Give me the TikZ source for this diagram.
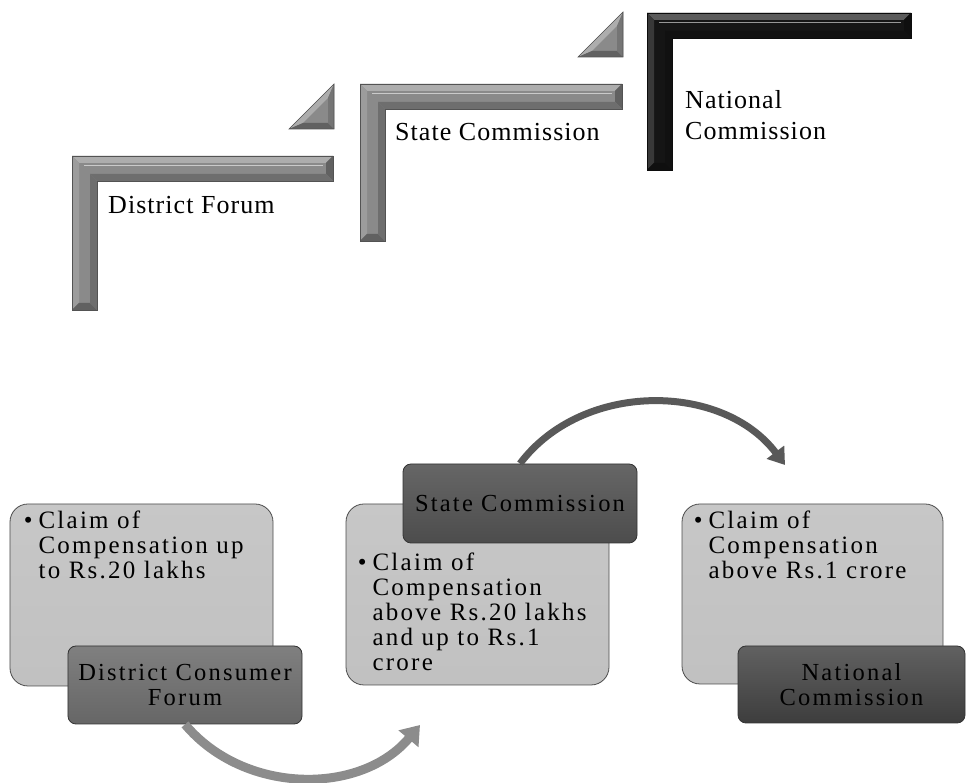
\documentclass[tikz,border=0pt]{standalone}
\usepackage{fontspec}
\setmainfont{Liberation Serif}
\newfontfamily\spacedfont[LetterSpace=9]{Liberation Serif}
\newfontfamily\widefont[LetterSpace=4]{Liberation Serif}
\usetikzlibrary{calc, arrows.meta}
\definecolor{framegray}{HTML}{8A8A8A}
\definecolor{frameblack}{HTML}{151515}
\definecolor{boxlight}{HTML}{CBCBCB}
\newcommand{\lframe}[5]{
    % #1: left x
    % #2: top y
    % #3: right x
    % #4: bottom y
    % #5: color
    \fill[#5] (#1,#2) -- (#3,#2) -- (#3,{#2-25}) -- ({#1+25},{#2-25}) -- ({#1+25},#4) -- (#1,#4) -- cycle;
    \fill[#5!70!white] (#1,#2) -- (#3,#2) -- ({#3-7},{#2-7}) -- ({#1+7},{#2-7}) -- cycle;
    \fill[#5!85!white] (#1,#2) -- ({#1+7},{#2-7}) -- ({#1+7},{#4+7}) -- (#1,#4) -- cycle;
    \fill[#5!70!black] (#3,#2) -- (#3,{#2-25}) -- ({#3-7},{#2-18}) -- ({#3-7},{#2-7}) -- cycle;
    \fill[#5!70!black] (#1,#4) -- ({#1+25},#4) -- ({#1+18},{#4+7}) -- ({#1+7},{#4+7}) -- cycle;
    \fill[#5!80!black] ({#1+25},{#2-25}) -- (#3,{#2-25}) -- ({#3-7},{#2-18}) -- ({#1+18},{#2-18}) -- cycle;
    \fill[#5!80!black] ({#1+25},{#2-25}) -- ({#1+25},#4) -- ({#1+18},{#4+7}) -- ({#1+18},{#2-18}) -- cycle;
    \draw[#5!45!white, line width=1bp] ({#1+12},{#2-10}) -- ({#3-10},{#2-10});
    \draw[#5!60!black, line width=0.6bp] (#1,#2) -- (#3,#2) -- (#3,{#2-25}) -- ({#1+25},{#2-25}) -- ({#1+25},#4) -- (#1,#4) -- cycle;
}
\newcommand{\ltri}[3]{
    % #1: right x
    % #2: bottom y
    % #3: size
    \fill[framegray] ({#1-#3},#2) -- (#1,#2) -- (#1,{#2+#3}) -- cycle;
    \fill[framegray!70!white] ({#1-#3},#2) -- (#1,{#2+#3}) -- ({#1-6},{#2+#3-14}) -- ({#1-#3+14},{#2+6}) -- cycle;
    \fill[framegray!70!black] ({#1-#3},#2) -- (#1,#2) -- ({#1-6},{#2+6}) -- ({#1-#3+14},{#2+6}) -- cycle;
    \fill[framegray!85!black] (#1,#2) -- (#1,{#2+#3}) -- ({#1-6},{#2+#3-14}) -- ({#1-6},{#2+6}) -- cycle;
    \draw[framegray!60!black, line width=0.6bp] ({#1-#3},#2) -- (#1,#2) -- (#1,{#2+#3}) -- cycle;
}

\begin{document}
\begin{tikzpicture}[x=1bp, y=1bp]
    \useasboundingbox (0,0) rectangle (966,783);
    % labels beside the frames
    \tikzstyle{toplabel}=[inner sep=0, anchor=west, align=left, font=\widefont\fontsize{26bp}{31bp}\selectfont]
    % light boxes with the claims
    \tikzstyle{claimbox}=[draw=black!70, line width=0.8bp, rounded corners=18bp, top color=boxlight!108, bottom color=boxlight!95!black]
    % darker title boxes
    \tikzstyle{titlebox}=[draw=black!80, line width=0.8bp, rounded corners=8bp, minimum width=234bp, minimum height=78bp, align=center, font=\spacedfont\fontsize{24.5bp}{25bp}\selectfont]
    \tikzstyle{claimtext}=[inner sep=0, anchor=north west, font=\spacedfont\fontsize{25bp}{25bp}\selectfont]
    % arrows between the boxes
    \tikzstyle{arrowdark}=[line width=7bp, draw=black!65, -{Triangle[length=16bp, width=21bp]}]
    \tikzstyle{arrowlight}=[line width=9bp, draw=black!45, -{Triangle[length=18bp, width=25bp]}]

    % District Forum frame
    \lframe{72}{627}{333}{473}{framegray}
    \ltri{334}{654}{45}
    \node[toplabel] (dflabel) at (108,578) {District Forum};
    % State Commission frame
    \lframe{360}{699}{622}{542}{framegray}
    \ltri{623}{726}{45}
    \node[toplabel] (sclabel) at (395,651) {State Commission};
    % National Commission frame
    \lframe{647}{770}{911}{613}{frameblack}
    \node[toplabel] (nclabel) at (685,668) {National\\Commission};

    % District Consumer Forum
    \node[claimbox, minimum width=263bp, minimum height=182bp] (dclight) at (141.5,188) {};
    \node[claimtext] (dctext) at ($(dclight.north west)+(14,-7)$) {\begin{tabular}{@{}l@{\hspace{6bp}}l@{}}\textbullet & Claim of\\ & Compensation up\\ & to Rs.20 lakhs\end{tabular}};
    \node[titlebox, top color=black!50, bottom color=black!60] (dcdark) at (185,98) {District Consumer\\Forum};
    % State Commission
    \node[claimbox, minimum width=263bp, minimum height=181bp] (sclight) at (477.5,188.5) {};
    \node[claimtext] (sctext) at ($(sclight.north west)+(12,-49)$) {\begin{tabular}{@{}l@{\hspace{6bp}}l@{}}\textbullet & Claim of\\ & Compensation\\ & above Rs.20 lakhs\\ & and up to Rs.1\\ & crore\end{tabular}};
    \node[titlebox, top color=black!60, bottom color=black!70, minimum height=79bp] (scdark) at (520,279.5) {State Commission};
    % National Commission
    \node[claimbox, minimum width=261bp, minimum height=180bp] (nclight) at (812.5,189) {};
    \node[claimtext] (nctext) at ($(nclight.north west)+(12,-7)$) {\begin{tabular}{@{}l@{\hspace{6bp}}l@{}}\textbullet & Claim of\\ & Compensation\\ & above Rs.1 crore\end{tabular}};
    \node[titlebox, top color=black!62, bottom color=black!76, minimum width=227bp, minimum height=77bp] (ncdark) at (851.5,98.5) {National\\Commission};

    % arrow ends
    \coordinate (tipnc) at (785,318);
    \coordinate (tipsc) at (420,58);
    \draw[arrowdark] (scdark.north) to[out=53, in=127] (tipnc);
    \draw[arrowlight] (dcdark.south) to[out=-50, in=230] (tipsc);
\end{tikzpicture}
\end{document}
